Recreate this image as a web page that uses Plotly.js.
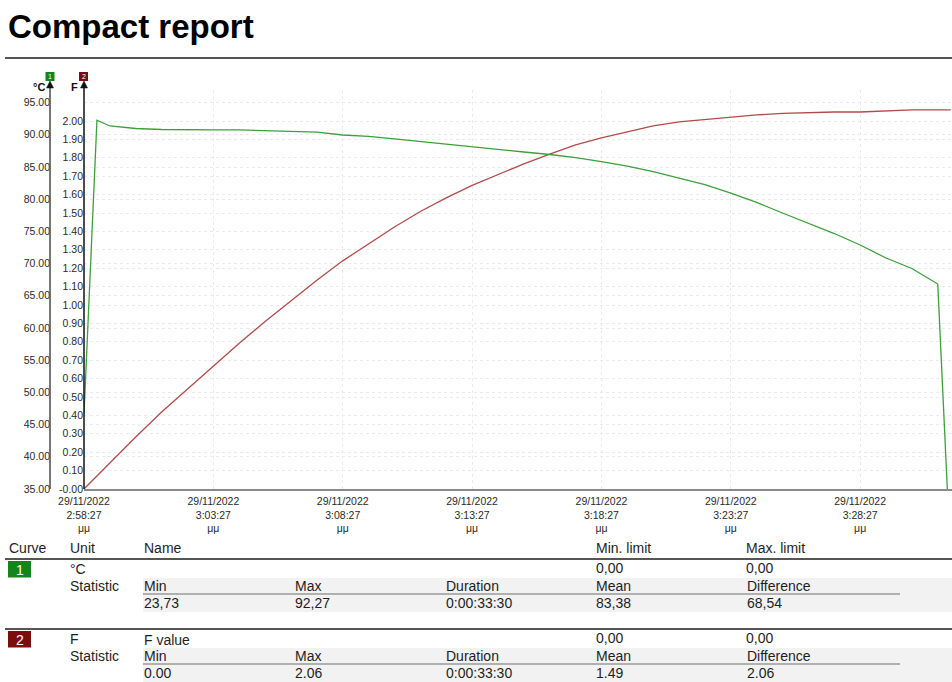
<!DOCTYPE html>
<html>
<head>
<meta charset="utf-8">
<script src="https://cdn.plot.ly/plotly-3.0.1.min.js"></script>
<style>
  html, body { margin: 0; padding: 0; background: #fff; }
  #report { width: 952px; height: 682px; }
</style>
</head>
<body>
<div id="report"></div>
<script>
// Logged samples: elapsed minutes since 29/11/2022 2:58:27 pm
const elapsedMin = [0, 0.5, 1, 2, 3, 4, 5, 6, 7, 8, 9, 10, 11, 12, 13, 14, 15, 16, 17, 18,
  19, 20, 21, 22, 23, 24, 25, 26, 27, 28, 29, 30, 31, 32, 33, 33.5];

// Curve 1: temperature, °C
const tempC = [46.6, 92.27, 91.37, 90.98, 90.82, 90.75, 90.75, 90.75, 90.67, 90.59, 90.43,
  89.97, 89.74, 89.38, 88.96, 88.54, 88.11, 87.64, 87.33, 86.94, 86.47, 85.85, 85.15,
  84.30, 83.29, 82.28, 80.96, 79.49, 77.86, 76.30, 74.67, 72.89, 70.87, 69.24, 66.83, 23.73];

// Curve 2: F value
const fValue = [0, 0.072, 0.143, 0.283, 0.418, 0.543, 0.670, 0.792, 0.910, 1.024, 1.134,
  1.240, 1.332, 1.424, 1.508, 1.582, 1.650, 1.710, 1.767, 1.820, 1.870, 1.908, 1.940,
  1.973, 1.995, 2.008, 2.022, 2.033, 2.041, 2.046, 2.049, 2.049, 2.054, 2.06, 2.06, 2.06];

// Axis ticks
const cTicks = [35, 40, 45, 50, 55, 60, 65, 70, 75, 80, 85, 90, 95];
const cTickLabels = ['35.00', '40.00', '45.00', '50.00', '55.00', '60.00', '65.00',
  '70.00', '75.00', '80.00', '85.00', '90.00', '95.00'];
const fTicks = [0, 0.1, 0.2, 0.3, 0.4, 0.5, 0.6, 0.7, 0.8, 0.9, 1.0, 1.1, 1.2, 1.3, 1.4,
  1.5, 1.6, 1.7, 1.8, 1.9, 2.0];
const fTickLabels = ['-0.00', '0.10', '0.20', '0.30', '0.40', '0.50', '0.60', '0.70',
  '0.80', '0.90', '1.00', '1.10', '1.20', '1.30', '1.40', '1.50', '1.60', '1.70',
  '1.80', '1.90', '2.00'];
const timeTickMin = [0, 5, 10, 15, 20, 25, 30];
const timeTickLabels = ['2:58:27', '3:03:27', '3:08:27', '3:13:27', '3:18:27', '3:23:27', '3:28:27'];
const tickDate = '29/11/2022';
const tickSuffix = 'μμ';

// Report table
const tableHeader = ['Curve', 'Unit', 'Name', 'Min. limit', 'Max. limit'];
const statHeader = ['Min', 'Max', 'Duration', 'Mean', 'Difference'];
const curveIds = ['1', '2'];
const curveUnits = ['°C', 'F'];
const curveNames = ['', 'F value'];
const curveMinLimit = ['0,00', '0,00'];
const curveMaxLimit = ['0,00', '0,00'];
const curveStats = [
  ['23,73', '92,27', '0:00:33:30', '83,38', '68,54'],
  ['0.00', '2.06', '0:00:33:30', '1.49', '2.06']
];

const GREEN_LINE = '#3c9f3c';
const RED_LINE = '#b24a4a';
const GREEN_BOX = '#14851a';
const RED_BOX = '#7d0d0d';
const FONT = 'Liberation Sans, Arial, Helvetica, sans-serif';

// Figure geometry (pixels)
const W = 952, H = 682;
const PLOT_TOP = 90, PLOT_BOTTOM = 489, PLOT_LEFT = 84, C_AXIS_X = 50;
const PX = x => x / W;
const PY = y => (PLOT_BOTTOM - y) / (PLOT_BOTTOM - PLOT_TOP);

const START_SEC = 14 * 3600 + 58 * 60 + 27;
const pad = n => String(n).padStart(2, '0');
function stamp(sec) {
  const t = Math.round(START_SEC + sec);
  const h = Math.floor(t / 3600), m = Math.floor((t % 3600) / 60), s = t % 60;
  return `2022-11-29 ${pad(h)}:${pad(m)}:${pad(s)}`;
}

const times = elapsedMin.map(m => stamp(m * 60));

const traces = [
  { x: times, y: fValue, type: 'scatter', mode: 'lines', yaxis: 'y',
    line: { color: RED_LINE, width: 1.3 }, hoverinfo: 'skip' },
  { x: times, y: tempC, type: 'scatter', mode: 'lines', yaxis: 'y2',
    line: { color: GREEN_LINE, width: 1.3 }, hoverinfo: 'skip' }
];

const tickFont = { family: FONT, size: 10.5, color: '#2a2a2a' };
const gridStyle = { showgrid: true, gridcolor: '#ebebeb', gridwidth: 1, griddash: 'dot' };

const shapes = [];
const annotations = [];

function line(x0, y0, x1, y1, color, width) {
  shapes.push({ type: 'line', xref: 'paper', yref: 'paper',
    x0: PX(x0), y0: PY(y0), x1: PX(x1), y1: PY(y1),
    line: { color, width } });
}
function rect(x0, y0, x1, y1, fill) {
  shapes.push({ type: 'rect', xref: 'paper', yref: 'paper', layer: 'below',
    x0: PX(x0), y0: PY(y0), x1: PX(x1), y1: PY(y1),
    fillcolor: fill, line: { width: 0 } });
}
function arrowHead(x, yTip, color) {
  const p = (a, b) => `${PX(a)},${PY(b)}`;
  shapes.push({ type: 'path', xref: 'paper', yref: 'paper',
    path: `M${p(x, yTip)} L${p(x - 3.5, yTip + 7)} L${p(x + 3.5, yTip + 7)} Z`,
    fillcolor: color, line: { color, width: 0.5 } });
}
function text(str, x, y, opts = {}) {
  annotations.push({ text: str, xref: 'paper', yref: 'paper', x: PX(x), y: PY(y),
    xanchor: opts.anchor || 'left', yanchor: 'middle', showarrow: false,
    borderpad: 0, borderwidth: 0,
    font: { family: FONT, size: opts.size || 14, color: opts.color || '#1e1e1e' } });
}

// Heading
text('<b>Compact report</b>', 8, 27, { size: 33, color: '#000' });
line(5, 58, W, 58, '#555', 2);

// Vertical axes with arrowheads and curve badges
line(C_AXIS_X, 86, C_AXIS_X, PLOT_BOTTOM, '#4a4a4a', 1.5);
line(PLOT_LEFT, 86, PLOT_LEFT, PLOT_BOTTOM, '#111', 1.5);
arrowHead(C_AXIS_X, 81, '#111');
arrowHead(PLOT_LEFT, 81, '#111');
rect(45.5, 72, 54.5, 81, GREEN_BOX);
rect(79, 72, 88, 81, RED_BOX);
text(curveIds[0], 50, 76.5, { anchor: 'center', size: 7, color: '#fff' });
text(curveIds[1], 83.5, 76.5, { anchor: 'center', size: 7, color: '#fff' });
text('<b>' + curveUnits[0] + '</b>', 45, 87.5, { anchor: 'right', size: 11, color: '#111' });
text('<b>' + curveUnits[1] + '</b>', 78, 87.5, { anchor: 'right', size: 11, color: '#111' });

// Report table
const colX = [9, 70, 144, 596, 746];
const statX = [144, 295, 446, 596, 747];
const HEAD_Y = 548;
const blockTop = [559, 629];
tableHeader.forEach((h, i) => text(h, colX[i], HEAD_Y));

blockTop.forEach((top, k) => {
  line(5, top, W, top, '#555', 2);
  rect(8, top + 2, 31, top + 18.5, k === 0 ? GREEN_BOX : RED_BOX);
  text(curveIds[k], 19.5, top + 10.5, { anchor: 'center', size: 14, color: '#fff' });
  text(curveUnits[k], 70, top + 10);
  if (curveNames[k]) text(curveNames[k], 144, top + 10.5);
  text(curveMinLimit[k], 596, top + 8.5);
  text(curveMaxLimit[k], 746, top + 8.5);
  rect(143, top + 19, W, top + 53, '#f2f2f2');
  text('Statistic', 70, top + 26.5);
  statHeader.forEach((h, i) => text(h, statX[i], top + 26.5));
  line(143, top + 35, 900, top + 35, '#9a9a9a', 1.5);
  curveStats[k].forEach((v, i) => text(v, statX[i], top + 43.5));
});

const layout = {
  width: W, height: H,
  margin: { l: 0, r: 0, t: PLOT_TOP, b: H - PLOT_BOTTOM, pad: 0 },
  paper_bgcolor: '#fff', plot_bgcolor: '#fff',
  showlegend: false,
  font: { family: FONT },
  xaxis: Object.assign({
    domain: [PX(PLOT_LEFT), 1],
    type: 'date',
    range: [stamp(0), stamp(2013)],
    tickvals: timeTickMin.map(m => stamp(m * 60)),
    ticktext: timeTickLabels.map(t => `${tickDate}<br>${t}<br>${tickSuffix}`),
    ticks: '', tickfont: tickFont, ticklabelstandoff: 2,
    showline: true, linecolor: '#8a8a8a', linewidth: 1.5,
    zeroline: false, fixedrange: true
  }, gridStyle),
  yaxis: Object.assign({
    range: [0, (PLOT_BOTTOM - PLOT_TOP) / 184],
    tickvals: fTicks, ticktext: fTickLabels,
    ticks: '', tickfont: tickFont,
    showline: false, zeroline: false, fixedrange: true
  }, gridStyle),
  yaxis2: Object.assign({
    overlaying: 'y', anchor: 'free', position: PX(C_AXIS_X), side: 'left',
    range: [35, 35 + (PLOT_BOTTOM - PLOT_TOP) / 6.44],
    tickvals: cTicks, ticktext: cTickLabels,
    ticks: '', tickfont: tickFont,
    showline: false, zeroline: false, fixedrange: true
  }, gridStyle),
  shapes, annotations
};

Plotly.newPlot('report', traces, layout, { displayModeBar: false, staticPlot: true });
</script>
</body>
</html>
